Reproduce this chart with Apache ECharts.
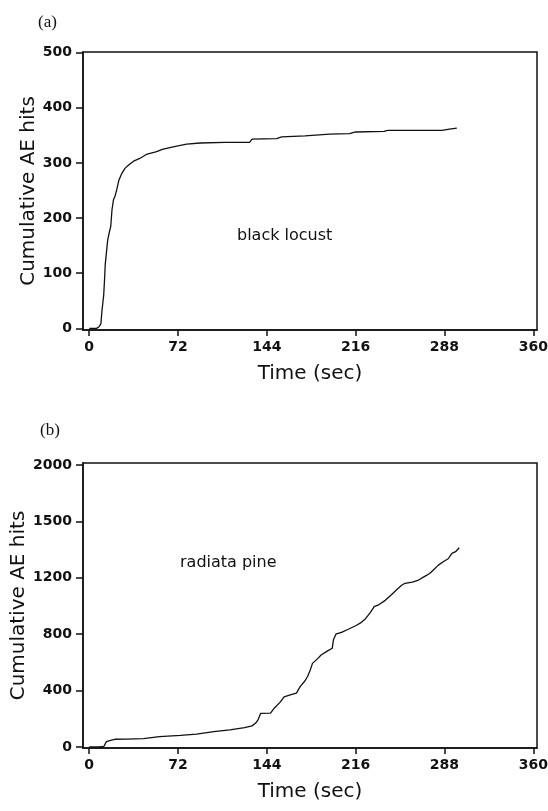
<!DOCTYPE html>
<html>
<head>
<meta charset="utf-8">
<script src="https://cdn.jsdelivr.net/npm/echarts@6/dist/echarts.min.js"></script>
<style>
  html, body { margin: 0; padding: 0; background: #fff; }
  #chart { width: 548px; height: 811px; }
</style>
</head>
<body>
<div id="chart"></div>
<script>
// Cumulative acoustic emission hits over time, two species.
// Each series: [time (s), cumulative hits]
const blackLocust = [
  [0, 0], [6, 0], [8, 3], [9.5, 8], [10.3, 30], [11.8, 61], [12.5, 90], [13, 115],
  [14.5, 118], [15, 160], [16.5, 176], [17.5, 185], [18.5, 215], [19.7, 233], [21, 240],
  [22.4, 252], [24, 268], [26.5, 281], [29, 290], [32, 296], [36, 303], [41, 308],
  [47, 316], [54, 320], [60, 325], [70, 330], [79, 334], [90, 336], [110, 337],
  [130, 337], [132, 343], [152, 344], [156, 347], [175, 349], [195, 352], [211, 353],
  [216, 356], [239, 357], [242, 359], [270, 359], [286, 359], [292, 361], [298, 363]
];
const radiataPine = [
  [0, 0], [8, 0], [12, 5], [14, 38], [18, 48], [21, 55], [30, 56], [44, 59], [57, 73],
  [74, 83], [87, 92], [101, 109], [114, 121], [126, 137], [132, 150], [135, 170],
  [137, 195], [139, 239], [147, 240], [150, 275], [155, 320], [158, 355], [163, 370],
  [168, 382], [171, 428], [175, 470], [177, 500], [179, 540], [181, 593], [185, 625],
  [188, 652], [193, 680], [197, 700], [198, 760], [200, 800], [205, 815], [210, 835],
  [216, 860], [220, 880], [224, 910], [228, 955], [231, 995], [235, 1010], [240, 1040],
  [245, 1080], [249, 1113], [253, 1145], [256, 1161], [262, 1170], [267, 1184],
  [272, 1210], [276, 1230], [279, 1255], [283, 1290], [287, 1314], [291, 1335],
  [294, 1373], [297, 1385], [300, 1413]
];

// Tick positions and the text printed at them
const timeTicks = [0, 72, 144, 216, 288, 360];
const aTickValues = [0, 100, 200, 300, 400, 500];
const bTickValues = [0, 400, 800, 1200, 1600, 2000];
const bTickLabels = ['0', '400', '800', '1200', '1500', '2000'];

const INK = '#111';
const tickFont = { fontFamily: 'DejaVu Sans', fontWeight: 'bold', fontSize: 14, color: INK };
const nameFont = { fontFamily: 'DejaVu Sans', fontSize: 20, color: INK };

function xAxisFor(gridIndex) {
  return {
    type: 'value', gridIndex, min: -5, max: 363,
    name: 'Time (sec)', nameLocation: 'middle', nameGap: 34, nameTextStyle: nameFont,
    nameMoveOverlap: false,
    splitLine: { show: false },
    axisLine: { show: true, onZero: false, lineStyle: { color: INK, width: 1.5 } },
    axisTick: { show: true, inside: false, length: 6, customValues: timeTicks, lineStyle: { color: INK, width: 1.5 } },
    axisLabel: Object.assign({ margin: 10, customValues: timeTicks }, tickFont)
  };
}

function yAxisFor(gridIndex, min, max, values, fmt, gap) {
  return {
    type: 'value', gridIndex, min, max,
    name: 'Cumulative AE hits', nameLocation: 'middle', nameGap: gap, nameTextStyle: nameFont,
    nameMoveOverlap: false,
    splitLine: { show: false },
    axisLine: { show: true, onZero: false, lineStyle: { color: INK, width: 1.5 } },
    axisTick: { show: true, inside: false, length: 7, customValues: values, lineStyle: { color: INK, width: 1.5 } },
    axisLabel: Object.assign({ margin: 11, customValues: values, formatter: fmt }, tickFont)
  };
}

const chart = echarts.init(document.getElementById('chart'), null, { renderer: 'canvas' });
chart.setOption({
  animation: false,
  backgroundColor: '#fff',
  grid: [
    { left: 83, top: 52, width: 454, height: 278, outerBoundsMode: 'none', containLabel: false,
      show: true, borderColor: INK, borderWidth: 1.5, backgroundColor: 'transparent' },
    { left: 83, top: 463, width: 454, height: 285, outerBoundsMode: 'none', containLabel: false,
      show: true, borderColor: INK, borderWidth: 1.5, backgroundColor: 'transparent' }
  ],
  xAxis: [xAxisFor(0), xAxisFor(1)],
  yAxis: [
    yAxisFor(0, -3, 501, aTickValues, v => String(v), 44),
    yAxisFor(1, -7, 2014, bTickValues, v => bTickLabels[bTickValues.indexOf(v)], 54)
  ],
  series: [
    { type: 'line', xAxisIndex: 0, yAxisIndex: 0, data: blackLocust, showSymbol: false,
      lineStyle: { color: INK, width: 1.3 } },
    { type: 'line', xAxisIndex: 1, yAxisIndex: 1, data: radiataPine, showSymbol: false,
      lineStyle: { color: INK, width: 1.3 } }
  ],
  graphic: [
    { type: 'text', left: 38, top: 14, style: { text: '(a)', font: '17px "Liberation Serif"', fill: INK } },
    { type: 'text', left: 40, top: 422, style: { text: '(b)', font: '17px "Liberation Serif"', fill: INK } },
    { type: 'text', left: 237, top: 228, style: { text: 'black locust', font: '16px "DejaVu Sans"', fill: INK } },
    { type: 'text', left: 180, top: 555, style: { text: 'radiata pine', font: '16px "DejaVu Sans"', fill: INK } }
  ]
});
</script>
</body>
</html>
